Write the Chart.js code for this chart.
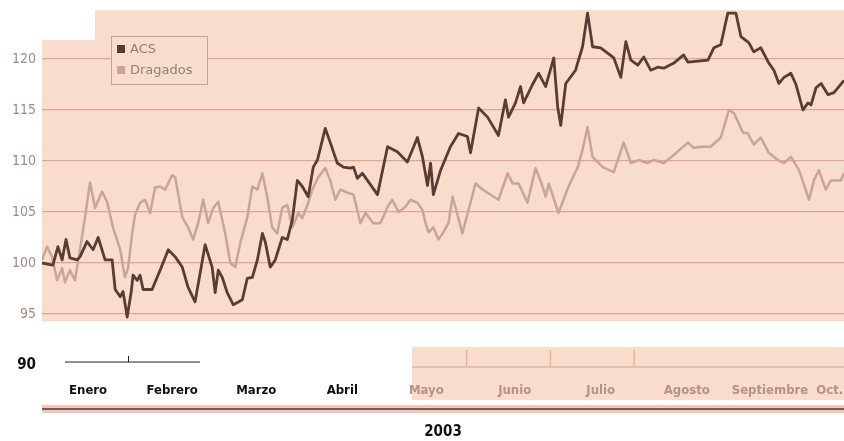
<!DOCTYPE html>
<html>
<head>
<meta charset="utf-8">
<script src="https://cdn.jsdelivr.net/npm/chart.js@4"></script>
<style>
  html, body { margin: 0; padding: 0; background: #fff; }
  #wrap { width: 844px; height: 441px; }
</style>
</head>
<body>
<div id="wrap"><canvas id="chart" width="844" height="441"></canvas></div>
<script>
// days since 1 Jan 2003 (base 100)
const acsDays = [0, 3.9, 5.7, 7.2, 8.6, 10.0, 12.5, 13.6, 16.1, 18.3, 20.1, 22.6, 25.1, 26.2, 28.0, 29.0, 30.5, 31.9, 32.6, 34.1,
  35.1, 36.2, 39.4, 42.3, 45.2, 47.7, 50.2, 52.3, 54.8, 58.4, 60.9, 62.0, 63.1, 64.5, 66.3, 68.5, 71.7, 73.5, 75.3, 77.1,
  78.9, 79.9, 81.7, 83.5, 86.0, 87.8, 89.6, 91.4, 93.2, 95.3, 97.1, 98.6, 101.4, 103.2, 105.7, 107.9, 110.4, 111.5, 112.9, 114.7,
  116.5, 120.1, 123.7, 127.2, 130.8, 134.4, 136.2, 138.0, 139.1, 140.1, 142.7, 146.2, 149.1, 152.3, 153.4, 156.3, 159.5, 163.4, 165.9, 167.0,
  169.5, 171.3, 172.4, 175.6, 177.8, 180.3, 183.2, 184.6, 185.7, 187.5, 191.0, 193.5, 195.3, 197.1, 200.0, 204.7, 207.2, 209.0, 210.8, 213.3,
  215.4, 217.9, 220.4, 222.6, 226.2, 229.7, 231.2, 238.4, 240.5, 243.0, 245.5, 248.4, 250.2, 253.0, 254.8, 257.3, 260.2, 262.0, 263.8, 265.6,
  268.1, 269.9, 272.4, 274.2, 275.3, 277.1, 278.9, 281.4, 283.5, 287.1]
const acsValues = [100.0, 99.8, 101.6, 100.3, 102.3, 100.5, 100.3, 100.6, 102.1, 101.3, 102.5, 100.3, 100.3, 97.4, 96.7, 97.2, 94.7, 97.1, 98.8, 98.3,
  98.8, 97.4, 97.4, 99.3, 101.3, 100.6, 99.6, 97.6, 96.2, 101.8, 99.6, 97.1, 99.3, 98.6, 97.1, 95.9, 96.4, 98.5, 98.6, 100.3,
  102.9, 102.1, 99.6, 100.3, 102.5, 102.3, 104.2, 108.1, 107.5, 106.5, 109.4, 110.1, 113.2, 111.8, 109.8, 109.4, 109.3, 109.4, 108.3, 108.8,
  108.1, 106.7, 111.4, 110.9, 109.9, 112.3, 110.4, 107.6, 109.8, 106.7, 109.1, 111.4, 112.7, 112.4, 110.8, 115.2, 114.3, 112.5, 116.0, 114.3,
  115.7, 117.3, 115.7, 117.5, 118.6, 117.3, 120.1, 115.3, 113.5, 117.6, 118.9, 121.2, 124.5, 121.2, 121.1, 120.1, 118.2, 121.7, 119.9, 119.4,
  120.2, 118.9, 119.2, 119.1, 119.6, 120.4, 119.7, 119.9, 121.1, 121.4, 124.5, 124.5, 122.2, 121.6, 120.7, 121.1, 119.6, 118.9, 117.6, 118.2,
  118.6, 117.5, 115.0, 115.7, 115.5, 117.2, 117.6, 116.5, 116.7, 117.9]

const dragDays = [0, 1.8, 3.6, 5.4, 7.2, 8.2, 10.0, 11.8, 13.6, 15.4, 17.2, 19.0, 21.5, 23.3, 25.4, 28.0, 29.7, 30.8, 32.3, 33.3,
  35.1, 36.9, 38.7, 40.5, 42.3, 44.1, 46.6, 47.7, 50.2, 52.3, 54.1, 55.9, 57.7, 59.5, 61.3, 63.1, 65.6, 67.4, 69.2, 71.0,
  73.5, 75.3, 77.1, 78.9, 80.6, 82.4, 84.2, 86.0, 87.8, 89.6, 91.8, 93.2, 95.3, 96.8, 98.9, 101.4, 103.2, 105.0, 106.8, 109.3,
  111.5, 114.0, 115.8, 118.6, 121.1, 123.7, 125.4, 127.6, 130.1, 131.9, 134.4, 136.2, 137.3, 138.4, 140.1, 141.9, 143.7, 145.5, 147.0, 150.5,
  155.2, 157.7, 163.4, 166.7, 168.5, 170.6, 173.8, 176.7, 179.2, 180.3, 181.4, 184.9, 188.5, 191.8, 193.5, 195.3, 197.1, 200.7, 204.7, 208.2,
  210.8, 213.6, 216.8, 219.0, 222.6, 226.2, 231.2, 233.3, 235.8, 239.4, 243.0, 245.9, 247.7, 250.9, 252.7, 254.8, 257.3, 260.2, 263.4, 265.6,
  268.1, 271.0, 274.6, 276.3, 278.1, 280.6, 282.4, 286.0, 287.1]
const dragValues = [100.3, 101.6, 100.6, 98.3, 99.5, 98.1, 99.3, 98.3, 101.3, 104.5, 107.9, 105.4, 107.0, 106.0, 103.5, 101.3, 98.6, 99.5, 102.9, 104.7,
  105.9, 106.2, 104.9, 107.4, 107.5, 107.2, 108.6, 108.4, 104.5, 103.5, 102.3, 103.9, 106.2, 103.9, 105.4, 106.0, 102.9, 100.0, 99.6, 102.0,
  104.5, 107.5, 107.2, 108.8, 106.5, 103.5, 102.9, 105.4, 105.7, 103.5, 104.9, 104.4, 105.9, 107.2, 108.4, 109.3, 108.1, 106.2, 107.2, 106.9,
  106.7, 103.9, 104.9, 103.9, 103.9, 105.5, 106.2, 105.0, 105.5, 106.2, 105.9, 105.2, 103.9, 103.0, 103.5, 102.3, 103.0, 103.9, 106.5, 102.9,
  107.8, 107.2, 106.2, 108.8, 107.8, 107.8, 105.9, 109.3, 107.5, 106.5, 107.8, 104.9, 107.5, 109.4, 111.1, 113.3, 110.4, 109.4, 108.9, 111.8,
  109.8, 110.1, 109.8, 110.1, 109.8, 110.6, 111.8, 111.3, 111.4, 111.4, 112.3, 115.0, 114.7, 112.8, 112.7, 111.6, 112.3, 110.8, 110.1, 109.8,
  110.4, 109.1, 106.2, 108.1, 109.1, 107.2, 108.1, 108.1, 108.8]

const monthLabels = ['Enero', 'Febrero', 'Marzo', 'Abril', 'Mayo', 'Junio', 'Julio', 'Agosto', 'Septiembre', 'Oct.']
const monthPos = [16.5, 46.6, 76.7, 107.5, 137.6, 169.2, 200, 230.8, 260.6, 282]
const yTicks = [90, 95, 100, 105, 110, 115, 120]

const peach = '#f9ddcc'
const condensed = "'Liberation Sans Narrow', 'DejaVu Sans Condensed', sans-serif"

const toPoints = (xs, ys) => xs.map((d, i) => ({ x: d, y: ys[i] }))

// paper background, the strips and the legend box
const paper = {
  id: 'paper',
  beforeDraw(c) {
    const ctx = c.ctx
    const a = c.chartArea
    const y = c.scales.y
    const x = c.scales.x
    const bottom = y.getPixelForValue(94.3)
    ctx.save()
    ctx.fillStyle = '#fff'
    ctx.fillRect(0, 0, c.width, c.height)
    ctx.fillStyle = peach
    ctx.beginPath()
    ctx.moveTo(a.left, 40)
    ctx.lineTo(95, 40)
    ctx.lineTo(95, a.top + 2)
    ctx.lineTo(a.right, a.top + 2)
    ctx.lineTo(a.right, bottom)
    ctx.lineTo(a.left, bottom)
    ctx.closePath()
    ctx.fill()

    // month strip behind May..Oct
    const sx = x.getPixelForValue(132.5)
    ctx.fillRect(sx, 347, a.right - sx, 53)
    ctx.strokeStyle = '#e2b5a4'
    ctx.lineWidth = 1.5
    ctx.beginPath()
    ctx.moveTo(sx, 367); ctx.lineTo(a.right, 367)
    ;[152, 182, 212].forEach(d => {
      const px = x.getPixelForValue(d)
      ctx.moveTo(px, 350); ctx.lineTo(px, 367)
    })
    ctx.stroke()

    // small base axis at 90
    const y90 = y.getPixelForValue(90)
    ctx.strokeStyle = '#222'
    ctx.lineWidth = 1
    ctx.beginPath()
    ctx.moveTo(65, y90 - 3); ctx.lineTo(200, y90 - 3)
    ctx.moveTo(128.5, y90 - 9); ctx.lineTo(128.5, y90 - 3)
    ctx.stroke()

    // double rule above the year
    ctx.fillStyle = '#f3c8b8'
    ctx.fillRect(a.left, 405, a.right - a.left, 8)
    ctx.strokeStyle = '#4a3a38'
    ctx.lineWidth = 1.5
    ctx.beginPath()
    ctx.moveTo(a.left, 409); ctx.lineTo(a.right, 409)
    ctx.stroke()
    ctx.restore()
  },
  afterDatasetsDraw(c) {
    const ctx = c.ctx
    ctx.save()
    ctx.fillStyle = peach
    ctx.strokeStyle = '#bfa59b'
    ctx.lineWidth = 1
    ctx.fillRect(111.5, 36.5, 96, 48)
    ctx.strokeRect(111.5, 36.5, 96, 48)
    ctx.font = "13px 'DejaVu Sans', sans-serif"
    ctx.textBaseline = 'middle'
    c.data.datasets.forEach((ds, i) => {
      const top = 45 + i * 21
      ctx.fillStyle = ds.borderColor
      ctx.fillRect(117, top, 8, 8)
      ctx.fillStyle = '#8f7f7a'
      ctx.fillText(ds.label, 130, top + 4.5)
    })
    ctx.restore()
  }
}

new Chart(document.querySelector('#chart').getContext('2d'), {
  type: 'line',
  data: {
    datasets: [
      {
        label: 'ACS',
        data: toPoints(acsDays, acsValues),
        borderColor: '#5b3c35',
        borderWidth: 2.8,
        pointRadius: 0,
        tension: 0,
        borderJoinStyle: 'round'
      },
      {
        label: 'Dragados',
        data: toPoints(dragDays, dragValues),
        borderColor: '#c9a498',
        borderWidth: 2.5,
        pointRadius: 0,
        tension: 0,
        borderJoinStyle: 'round'
      }
    ]
  },
  options: {
    responsive: false,
    animation: false,
    layout: { padding: { top: 8, right: 0, left: 0, bottom: 0 } },
    plugins: {
      legend: { display: false },
      tooltip: { enabled: false }
    },
    scales: {
      x: {
        type: 'linear',
        min: 0,
        max: 287.1,
        afterBuildTicks(s) { s.ticks = monthPos.map(v => ({ value: v })) },
        afterFit(s) {
          s.height = 76
          s.paddingLeft = 0
          s.paddingRight = 0
        },
        grid: { display: false },
        border: { display: false },
        ticks: {
          autoSkip: false,
          maxRotation: 0,
          padding: 10,
          font: { family: condensed, size: 13, weight: 'bold' },
          color: ctx => ctx.index < 4 ? '#111' : '#b99182',
          callback: (v, i) => monthLabels[i]
        },
        title: {
          display: true,
          text: '2003',
          color: '#111',
          font: { family: condensed, size: 15, weight: 'bold' },
          padding: { top: 0, bottom: 0 }
        }
      },
      y: {
        min: 90,
        max: 125,
        afterBuildTicks(s) { s.ticks = yTicks.map(v => ({ value: v })) },
        afterFit(s) {
          s.width = 42
          s.paddingTop = 0
          s.paddingBottom = 0
        },
        border: { display: false },
        grid: {
          color: ctx => ctx.tick && ctx.tick.value > 90 ? '#dca797' : 'transparent',
          lineWidth: 1.3,
          drawTicks: false
        },
        ticks: {
          padding: 6,
          font: ctx => ctx.tick && ctx.tick.value === 90
            ? { family: condensed, size: 15, weight: 'bold' }
            : { family: condensed, size: 14 },
          color: ctx => ctx.tick && ctx.tick.value === 90 ? '#111' : '#a08a84'
        }
      }
    }
  },
  plugins: [paper]
})
</script>
</body>
</html>
